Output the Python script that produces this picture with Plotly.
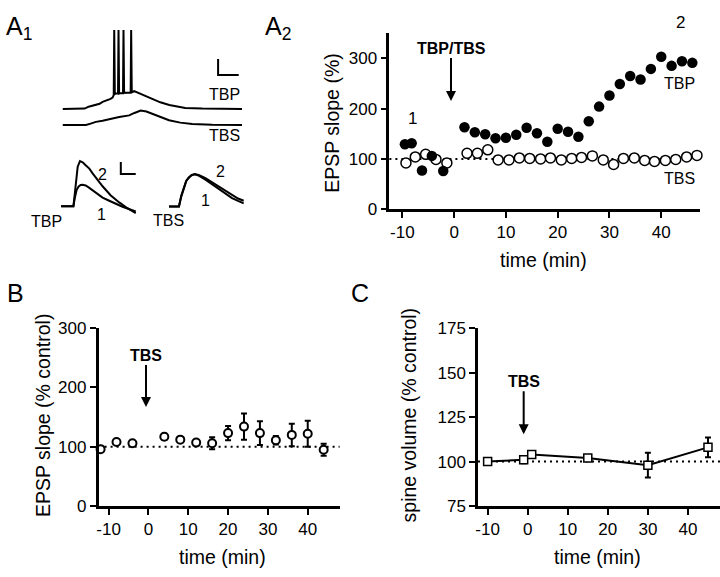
import plotly.graph_objects as go

W, H = 720, 577
FONT = "Liberation Sans, Arial, sans-serif"

# ---- A2: EPSP slope, single experiment (TBP filled, TBS open) ----
a2_tbp_time = [-9.5, -8.2, -6.2, -4.3, -2.1, 2, 4, 6, 8, 10, 12, 14, 16, 18, 20, 22,
               24, 26, 28, 30, 32, 34, 36, 38, 40, 42, 44, 46]
a2_tbp_slope = [129, 131, 77, 106, 76, 163, 153, 149, 141, 142, 148, 162, 151, 134, 160, 154,
                144, 175, 204, 226, 249, 265, 258, 279, 303, 285, 294, 291]
a2_tbs_time = [-9.3, -7.5, -5.5, -3.5, -1.4, 2.5, 4.5, 6.5, 8.5, 10.6, 12.6, 14.6, 16.7,
               18.6, 20.7, 22.7, 24.6, 26.7, 28.8, 30.8, 32.7, 34.8, 36.8, 38.7, 40.8,
               42.8, 44.9, 46.9]
a2_tbs_slope = [92, 104, 109, 99, 92, 111, 111, 118, 98, 98, 102, 101, 100, 102, 98, 101,
                103, 106, 98, 89, 101, 102, 97, 95, 97, 99, 104, 107]

# ---- B: EPSP slope after TBS, mean +/- sem ----
b_time = [-12, -8, -4, 4, 8, 12, 16, 20, 24, 28, 32, 36, 40, 44]
b_slope = [96, 108, 106, 117, 112, 107, 106, 123, 134, 123, 111, 120, 122, 95]
b_err = [3, 3, 3, 5, 3, 4, 10, 12, 22, 20, 7, 19, 22, 10]

# ---- C: spine volume ----
c_time = [-10, -1, 1, 15, 30, 45]
c_volume = [100, 101, 104, 102, 98, 108]
c_err = [0.8, 2, 0.8, 1, 7, 5.5]

time_ticks = [-10, 0, 10, 20, 30, 40]
time_labels = ["-10", "0", "10", "20", "30", "40"]

# ---- A1: example traces (arbitrary units) ----
burst_tbp_t = [60, 82, 86, 90, 93, 97, 100, 103, 106, 108, 110, 111.2, 111.7, 112.3, 113.5,
               115.5, 116, 116.6, 118, 120.5, 121, 121.6, 124, 128.2, 128.7, 129.3, 131.7,
               140, 150, 158, 167, 175, 183, 200, 220, 240]
burst_tbp_v = [103.3, 103, 101, 100, 99.3, 98, 96, 95, 94, 93, 91.7, 89, 21.7, 88, 87.5,
               87.5, 21.7, 87.5, 87, 87, 21.7, 86.7, 86.5, 86.5, 21.7, 86, 85,
               88.5, 93.3, 96.5, 99.3, 101, 102.3, 103, 103.3, 103.3]
burst_tbs_t = [60, 83.3, 88, 93.3, 100, 106, 110, 116.7, 121, 126.7, 132, 138.3, 144,
               150, 158, 166.7, 178, 190, 210, 240]
burst_tbs_v = [120, 120, 118.5, 116.7, 115.5, 114.5, 113.3, 111.7, 111, 110, 107.5, 105,
               106, 108.3, 111.5, 115, 117.5, 119, 119.8, 120]

epsp_tbp1_t = [58.3, 70.7, 72, 74, 76, 78, 80, 83, 86, 90, 95, 100, 106.7, 113, 120, 127, 133.3]
epsp_tbp1_v = [204, 204, 196, 187, 183.5, 182, 181.7, 182.5, 184.5, 187.3, 191.5, 195, 198.3,
               201.5, 204.5, 207, 209.3]
epsp_tbp2_t = [58.3, 70.7, 72, 73.5, 75, 77.3, 80, 83, 86.7, 90, 95, 100, 108, 116.7, 125, 133.3]
epsp_tbp2_v = [204, 204, 192, 175, 163, 157.3, 158.5, 161.5, 165, 170, 177, 183.3, 192.5,
               200, 206, 211]
epsp_tbs1_t = [166.7, 176.7, 179, 181.7, 184, 186.7, 189.5, 192.7, 197, 203.3, 210, 216.7,
               223, 230, 236, 241.7]
epsp_tbs1_v = [204.3, 204.3, 194, 184, 178, 174.5, 172, 171, 172.5, 176.5, 181.5, 186,
               191, 195.5, 198.5, 201]
epsp_tbs2_t = epsp_tbs1_t
epsp_tbs2_v = [204.3, 204.3, 193, 183.3, 177.5, 174, 171.5, 170.7, 171.8, 175, 179.3, 183.3,
               188, 192.7, 196, 198.3]

scale_top_t = [216, 216, 236.7]
scale_top_v = [51.7, 68.3, 68.3]
scale_bot_t = [118.3, 118.3, 133.3]
scale_bot_v = [158.3, 170.7, 170.7]


def px(x, y):
    """pixel position -> paper coords"""
    return x / W, 1 - y / H


def axis_style(**kw):
    d = dict(showline=True, linecolor="black", linewidth=2.5, ticks="outside", ticklen=6,
             tickwidth=2, tickcolor="black", showgrid=False, zeroline=False,
             tickfont=dict(size=17, color="black", family=FONT))
    d.update(kw)
    return d


fig = go.Figure()

# A1 traces
trace_sets = [
    (burst_tbp_t, burst_tbp_v), (burst_tbs_t, burst_tbs_v),
    (epsp_tbp1_t, epsp_tbp1_v), (epsp_tbp2_t, epsp_tbp2_v),
    (epsp_tbs1_t, epsp_tbs1_v), (epsp_tbs2_t, epsp_tbs2_v),
    (scale_top_t, scale_top_v), (scale_bot_t, scale_bot_v),
]
for tt, vv in trace_sets:
    fig.add_trace(go.Scatter(x=tt, y=vv, mode="lines", xaxis="x4", yaxis="y4",
                             line=dict(color="black", width=2), hoverinfo="skip",
                             showlegend=False, cliponaxis=False))

# A2
fig.add_trace(go.Scatter(x=a2_tbs_time, y=a2_tbs_slope, mode="markers", xaxis="x", yaxis="y",
                         marker=dict(symbol="circle", size=10, color="white",
                                     line=dict(color="black", width=1.5)),
                         showlegend=False, cliponaxis=False))
fig.add_trace(go.Scatter(x=a2_tbp_time, y=a2_tbp_slope, mode="markers", xaxis="x", yaxis="y",
                         marker=dict(symbol="circle", size=10.5, color="black"),
                         showlegend=False, cliponaxis=False))

# B
fig.add_trace(go.Scatter(x=b_time, y=b_slope, mode="markers", xaxis="x2", yaxis="y2",
                         error_y=dict(type="data", array=b_err, color="black", thickness=2, width=3),
                         marker=dict(symbol="circle", size=8, color="white",
                                     line=dict(color="black", width=2)),
                         showlegend=False, cliponaxis=False))

# C
fig.add_trace(go.Scatter(x=c_time, y=c_volume, mode="lines+markers", xaxis="x3", yaxis="y3",
                         error_y=dict(type="data", array=c_err, color="black", thickness=2, width=3),
                         line=dict(color="black", width=2),
                         marker=dict(symbol="square", size=8, color="white",
                                     line=dict(color="black", width=1.5)),
                         showlegend=False, cliponaxis=False))

# dotted 100% lines
for xr, yr in [("x", "y"), ("x2", "y2"), ("x3", "y3")]:
    fig.add_shape(type="line", xref=f"{xr} domain", yref=yr, x0=0, x1=1, y0=100, y1=100,
                  line=dict(color="black", width=2, dash="2px,4px"), layer="below")

ann = []


def text(x, y, s, size=17, bold=False, angle=0, xanchor="center", yanchor="middle"):
    ax_, ay_ = px(x, y)
    ann.append(dict(x=ax_, y=ay_, xref="paper", yref="paper", text=f"<b>{s}</b>" if bold else s,
                    showarrow=False, textangle=angle, xanchor=xanchor, yanchor=yanchor,
                    font=dict(size=size, color="black", family=FONT)))


# arrows with stimulus labels
for xr, yr, xv, yv, lab, ay in [("x", "y", -0.6, 215, "TBP/TBS", -53),
                                ("x2", "y2", -0.6, 167, "TBS", -52),
                                ("x3", "y3", -1, 115.4, "TBS", -53)]:
    ann.append(dict(x=xv, y=yv, xref=xr, yref=yr, ax=0, ay=ay, text=f"<b>{lab}</b>",
                    showarrow=True, arrowhead=2, arrowsize=1, arrowwidth=2, arrowcolor="black",
                    font=dict(size=16, color="black", family=FONT)))

# panel letters
text(1, 20, "A<sub>1</sub>", size=25, xanchor="left")
text(261, 20, "A<sub>2</sub>", size=25, xanchor="left")
text(2, 294, "B", size=25, xanchor="left")
text(347, 294, "C", size=25, xanchor="left")

# A1 labels
text(240, 88, "TBP", size=16, xanchor="right")
text(240, 131, "TBS", size=16, xanchor="right")
text(44, 220, "TBP", size=16)
text(166, 219, "TBS", size=16)
text(100, 171, "2", size=16)
text(99, 213, "1", size=16)
text(218, 168, "2", size=16)
text(203, 198, "1", size=16)

# A2 labels
text(411, 113, "1", size=17)
text(680, 14, "2", size=17)
text(679, 77, "TBP", size=16)
text(679, 175, "TBS", size=16)

# axis titles
text(330, 118, "EPSP slope (%)", size=19.5, angle=-90)
text(543, 260, "time (min)", size=19.5)
text(40, 420, "EPSP slope (% control)", size=19.5, angle=-90)
text(220, 567, "time (min)", size=19.5)
text(408, 420, "spine volume (% control)", size=19.5, angle=-90)
text(597, 567, "time (min)", size=19.5)

fig.update_layout(
    width=W, height=H, margin=dict(l=0, r=0, t=0, b=0),
    paper_bgcolor="white", plot_bgcolor="rgba(0,0,0,0)",
    font=dict(family=FONT, color="black"),
    showlegend=False,
    xaxis=axis_style(domain=[388 / W, 700 / W], anchor="y", range=[-12.5, 47.5],
                     tickvals=time_ticks, ticktext=time_labels),
    yaxis=axis_style(domain=[1 - 207 / H, 1 - 25 / H], anchor="x", range=[0, 350],
                     tickvals=[0, 100, 200, 300]),
    xaxis2=axis_style(domain=[96 / W, 338 / W], anchor="y2", range=[-12.5, 48],
                      tickvals=time_ticks, ticktext=time_labels),
    yaxis2=axis_style(domain=[1 - 514 / H, 1 - 330 / H], anchor="x2", range=[0, 300],
                      tickvals=[0, 100, 200, 300]),
    xaxis3=axis_style(domain=[477 / W, 1.0], anchor="y3", range=[-12.4, 48],
                      tickvals=time_ticks, ticktext=time_labels),
    yaxis3=axis_style(domain=[1 - 514 / H, 1 - 330 / H], anchor="x3", range=[75, 175],
                      tickvals=[75, 100, 125, 150, 175]),
    xaxis4=dict(domain=[0, 250 / W], anchor="y4", range=[0, 250], visible=False),
    yaxis4=dict(domain=[1 - 240 / H, 1], anchor="x4", range=[240, 0], visible=False),
    annotations=ann,
)

# drop the default page margin so the figure sits at the window origin
fig.write_html("out.html", config={"displayModeBar": False},
               post_script="document.body.style.margin='0';")
